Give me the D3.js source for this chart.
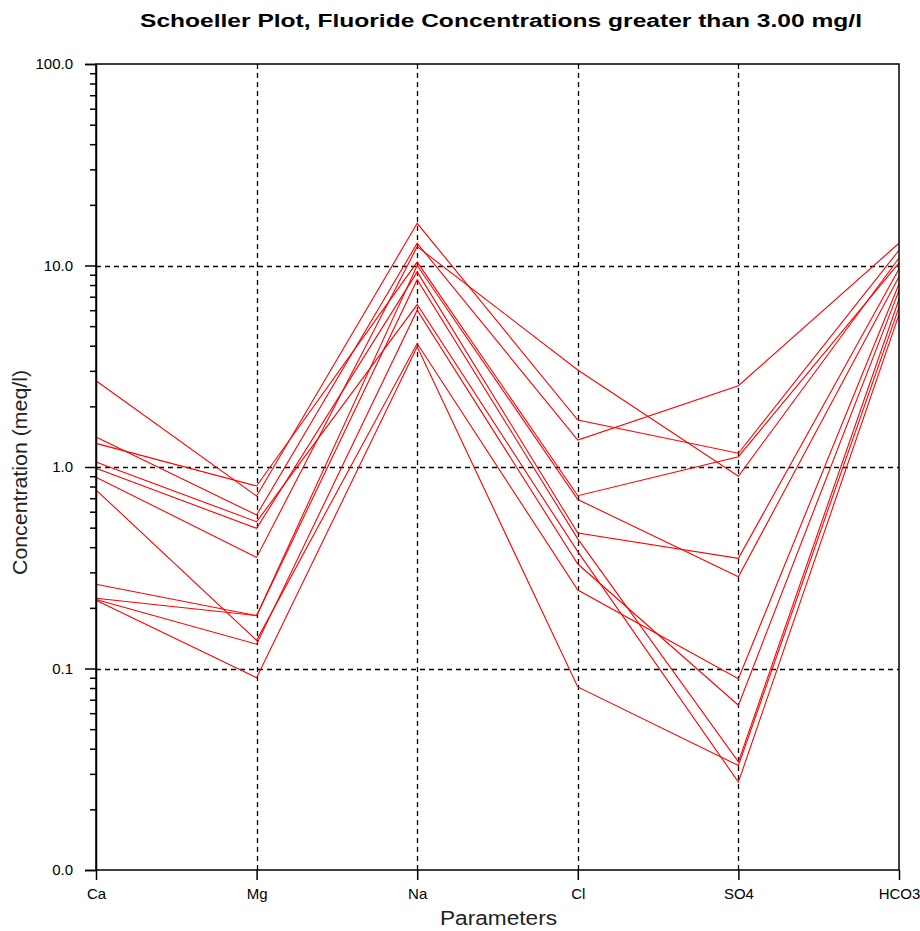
<!DOCTYPE html>
<html>
<head>
<meta charset="utf-8">
<script src="https://cdn.jsdelivr.net/npm/d3@7"></script>
<style>
  html, body { margin: 0; padding: 0; background: #fff; }
  svg { display: block; }
</style>
</head>
<body>
<svg id="chart" width="920" height="931"></svg>
<script>
// ---- Data ----
const categories = ["Ca", "Mg", "Na", "Cl", "SO4", "HCO3"];
const tickValues = [0.01, 0.1, 1, 10, 100];
const tickLabels = ["0.0", "0.1", "1.0", "10.0", "100.0"];
const gridValues = [0.1, 1, 10];

// one array per water sample: Ca, Mg, Na, Cl, SO4, HCO3 (meq/l)
const sample01 = [2.68, 0.718, 16.2, 1.71, 1.17, 11.9];
const sample02 = [1.41, 0.578, 12.9, 1.36, 2.53, 12.9];
const sample03 = [1.31, 0.805, 10.4, 0.72, 1.125, 10.3];
const sample04 = [1.06, 0.535, 6.4, 0.38, 0.0273, 5.7];
const sample05 = [0.985, 0.496, 9.3, 0.47, 0.352, 9.6];
const sample06 = [0.89, 0.356, 12.4, 3.03, 0.90, 10.9];
const sample07 = [0.77, 0.138, 4.1, 0.245, 0.089, 8.1];
const sample08 = [0.262, 0.183, 10.0, 0.69, 0.285, 8.8];
const sample09 = [0.223, 0.183, 8.5, 0.44, 0.0344, 6.8];
const sample10 = [0.22, 0.132, 6.0, 0.33, 0.0657, 7.5];
const sample11 = [0.218, 0.090, 3.95, 0.081, 0.033, 6.2];
const samples = [sample01, sample02, sample03, sample04, sample05, sample06,
                 sample07, sample08, sample09, sample10, sample11];

(function () {
// ---- Layout ----
const svg = d3.select("#chart");
const pLeft = 96, pRight = 899, pTop = 64, pBottom = 870;

const x = d3.scalePoint().domain(categories).range([pLeft, pRight]);
const y = d3.scaleLog().domain([0.01, 100]).range([pBottom, pTop]);

const font = "'Liberation Sans', Arial, sans-serif";

// Title
svg.append("text")
  .attr("x", 140).attr("y", 27)
  .attr("textLength", 722).attr("lengthAdjust", "spacingAndGlyphs")
  .attr("font-family", font).attr("font-weight", "bold").attr("font-size", 18)
  .text("Schoeller Plot, Fluoride Concentrations greater than 3.00 mg/l");

// Grid lines (dashed)
const grid = svg.append("g").attr("stroke", "#000").attr("stroke-width", 1.3)
  .attr("stroke-dasharray", "5,4");
grid.selectAll("line.h").data(gridValues).enter().append("line")
  .attr("x1", pLeft).attr("x2", pRight)
  .attr("y1", d => Math.round(y(d)) + 0.5).attr("y2", d => Math.round(y(d)) + 0.5);
grid.selectAll("line.v").data(categories.slice(1, -1)).enter().append("line")
  .attr("y1", pTop).attr("y2", pBottom)
  .attr("x1", d => Math.round(x(d)) + 0.5).attr("x2", d => Math.round(x(d)) + 0.5);

// Data lines
const line = d3.line()
  .x((d, i) => x(categories[i]))
  .y(d => y(d));
svg.append("g").selectAll("path").data(samples).enter().append("path")
  .attr("d", line)
  .attr("fill", "none").attr("stroke", "#ff0000").attr("stroke-width", 1.1);

// Frame
svg.append("rect")
  .attr("x", pLeft).attr("y", pTop).attr("width", pRight - pLeft).attr("height", pBottom - pTop)
  .attr("fill", "none").attr("stroke", "#000").attr("stroke-width", 1.5);

// Y axis with log ticks
const yAxis = d3.axisLeft(y)
  .tickValues(tickValues)
  .tickFormat((d, i) => tickLabels[i])
  .tickSize(11).tickPadding(12);
const yg = svg.append("g").attr("transform", `translate(${pLeft},0)`).call(yAxis);
yg.select(".domain").attr("stroke-width", 1.5);
yg.selectAll(".tick line").attr("stroke-width", 1.5);
yg.selectAll("text").attr("font-family", font).attr("font-size", 15).attr("fill", "#000");

// minor ticks
const minor = [];
for (let e = -2; e < 2; e++) for (let m = 2; m <= 9; m++) minor.push(m * Math.pow(10, e));
svg.append("g").attr("transform", `translate(${pLeft},0)`)
  .call(d3.axisLeft(y).tickValues(minor).tickFormat("").tickSize(6))
  .call(g => g.select(".domain").remove())
  .selectAll(".tick line").attr("stroke-width", 1.5);

// X axis
const xAxis = d3.axisBottom(x).tickSize(10).tickPadding(8);
const xg = svg.append("g").attr("transform", `translate(0,${pBottom})`).call(xAxis);
xg.select(".domain").remove();
xg.selectAll(".tick line").attr("stroke-width", 1.5);
xg.selectAll("text").attr("font-family", font).attr("font-size", 15).attr("fill", "#000");

// Axis titles
svg.append("text")
  .attr("x", 440).attr("y", 925)
  .attr("textLength", 117).attr("lengthAdjust", "spacingAndGlyphs")
  .attr("font-family", font).attr("font-size", 20).attr("fill", "#222")
  .text("Parameters");
svg.append("text")
  .attr("transform", "translate(27,575) rotate(-90)")
  .attr("textLength", 205).attr("lengthAdjust", "spacingAndGlyphs")
  .attr("font-family", font).attr("font-size", 20).attr("fill", "#222")
  .text("Concentration (meq/l)");
})();
</script>
</body>
</html>
